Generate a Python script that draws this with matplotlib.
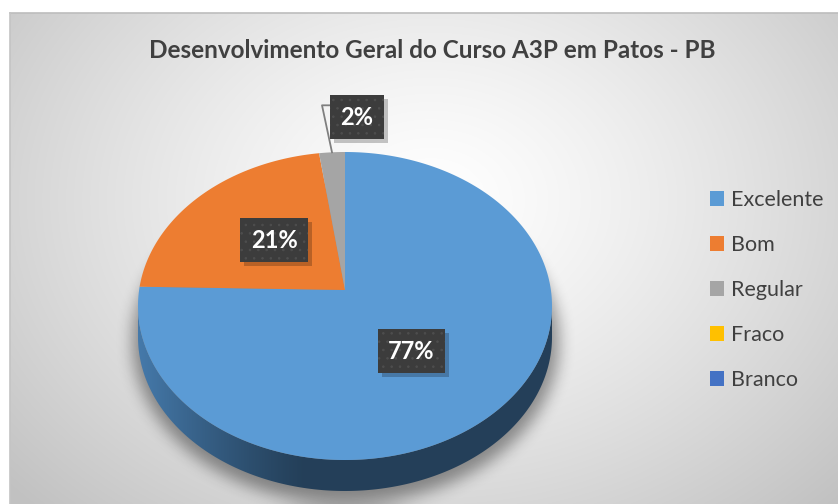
import numpy as np
import matplotlib.pyplot as plt
from matplotlib.patches import Polygon, Patch, Rectangle

categories = ['Excelente', 'Bom', 'Regular', 'Fraco', 'Branco']
values = [77, 21, 2, 0, 0]
labels = ['77%', '21%', '2%', '', '']
colors = ['#5B9BD5', '#ED7D31', '#A5A5A5', '#FFC000', '#4472C4']
title = 'Desenvolvimento Geral do Curso A3P em Patos - PB'

W, H = 838, 504
FONT = ['Lato', 'DejaVu Sans']
plt.rcParams['hatch.linewidth'] = 0.6

# pie geometry in pixels
cx, cy = 345, 306
a, b = 207, 154
apex = (345, 290)
depth = 31


def rim(theta):
    t = np.radians(theta)
    return cx + a * np.cos(t), cy - b * np.sin(t)


def box_blur(img, r, passes=3):
    out = img.copy()
    for _ in range(passes):
        pad = np.pad(out, [(r + 1, r), (0, 0)], mode='edge')
        c = np.cumsum(pad, axis=0)
        out = (c[2 * r + 1:] - c[:-2 * r - 1]) / (2 * r + 1)
        pad = np.pad(out, [(0, 0), (r + 1, r)], mode='edge')
        c = np.cumsum(pad, axis=1)
        out = (c[:, 2 * r + 1:] - c[:, :-2 * r - 1]) / (2 * r + 1)
    return out


fig = plt.figure(figsize=(W / 100, H / 100), dpi=100)
ax = fig.add_axes([0, 0, 1, 1])
ax.set_xlim(0, W)
ax.set_ylim(H, 0)
ax.axis('off')

# background: soft radial gradient inside the chart frame
yy, xx = np.mgrid[0:H, 0:W]
d = np.hypot((xx - 430) / 560, (yy - 200) / 430)
g = 1 - 0.24 * np.clip(d, 0, 1) ** 1.3
bg = np.dstack([g, g, g])
bg[:13, :] = 1
bg[:, :10] = 1
ax.imshow(bg, extent=(0, W, H, 0), zorder=0, aspect='auto')
ax.plot([10, W], [13, 13], color='#BDBDBD', lw=1.2, zorder=1)
ax.plot([10, 10], [13, H], color='#C4C4C4', lw=1.2, zorder=1)

# soft shadow under the pie
mask = (((xx - cx) / (a + 6)) ** 2 + ((yy - (cy + depth + 4)) / (b + 8)) ** 2 <= 1).astype(float)
sh = box_blur(mask, 7)
shadow = np.zeros((H, W, 4))
shadow[..., 3] = 0.4 * sh
ax.imshow(shadow, extent=(0, W, H, 0), zorder=2, aspect='auto')

total = sum(values)
starts, ends = [], []
ang = 90.0
for v in values:
    starts.append(ang)
    ang -= 360.0 * v / total
    ends.append(ang)

# side walls (front half only)
for v, c, s, e in zip(values, colors, starts, ends):
    if v == 0:
        continue
    th = np.linspace(s, e, 600)
    th = th[np.sin(np.radians(th)) <= 0]
    if len(th) < 2:
        continue
    x, y = rim(th)
    pts = np.vstack([np.column_stack([x, y]), np.column_stack([x[::-1], y[::-1] + depth])])
    poly = Polygon(pts, closed=True, facecolor='none', edgecolor='none', zorder=3)
    ax.add_patch(poly)
    base = np.array(plt.matplotlib.colors.to_rgb(c))
    gx = np.linspace(0, 1, 256)
    fac = 0.42 + 0.38 * np.clip(1 - gx / 0.4, 0, 1) ** 1.2
    grad = np.clip(base[None, :] * fac[:, None] * np.array([0.95, 0.98, 1.0]), 0, 1)
    im = ax.imshow(grad[None, :, :], extent=(x.min(), x.max(), cy + b + depth + 2, cy - 10),
                   zorder=3, aspect='auto', interpolation='bilinear')
    im.set_clip_path(poly)

# top face
for v, c, s, e in zip(values, colors, starts, ends):
    if v == 0:
        continue
    th = np.linspace(s, e, 400)
    x, y = rim(th)
    pts = np.vstack([[apex], np.column_stack([x, y])])
    ax.add_patch(Polygon(pts, closed=True, facecolor=c, edgecolor='none', zorder=4))

# data labels
label_texts = []


def label_box(x, y, txt):
    t = ax.text(x, y, txt, ha='center', va='center', fontsize=17, fontweight='bold',
                family=FONT, color='white', zorder=6,
                bbox=dict(boxstyle='square,pad=0.45', fc='#3C3C3C', ec='#4E4E4E', lw=0, hatch='..'))
    label_texts.append(t)


for v, s, e, txt in zip(values, starts, ends, labels):
    if v == 0:
        continue
    mid = (s + e) / 2
    if v >= 10:
        t = np.radians(mid)
        lx = apex[0] + 0.485 * a * np.cos(t)
        ly = apex[1] - 0.495 * b * np.sin(t) + 4
        label_box(lx, ly, txt)
    else:
        px, py = rim(mid)
        lx, ly = px + 25, py - 35
        ax.plot([px, px - 10, lx - 24], [py, ly - 12, ly - 12], color='#7F7F7F', lw=1.3, zorder=5)
        label_box(lx, ly, txt)

ax.text(432, 51, title, ha='center', va='center', fontsize=17.5, fontweight='bold',
        family=FONT, color='#404040', zorder=6)

handles = [Patch(facecolor=c, edgecolor='none') for c in colors]
leg = ax.legend(handles, categories, loc='center left', bbox_to_anchor=(0.834, 0.4246),
                frameon=False, prop={'family': FONT, 'size': 15.5}, handlelength=0.65,
                handleheight=0.65, handletextpad=0.35, labelspacing=1.16, borderpad=0)
for t in leg.get_texts():
    t.set_color('#404040')

# drop shadows behind the label boxes
fig.canvas.draw()
inv = ax.transData.inverted()
for t in label_texts:
    ext = t.get_bbox_patch().get_window_extent()
    (x0, y0), (x1, y1) = inv.transform([[ext.x0, ext.y0], [ext.x1, ext.y1]])
    ax.add_patch(Rectangle((min(x0, x1) + 4, min(y0, y1) + 4), abs(x1 - x0), abs(y1 - y0),
                           facecolor=(0, 0, 0, 0.22), edgecolor='none', zorder=5))

fig.savefig('out.png', dpi=100)
